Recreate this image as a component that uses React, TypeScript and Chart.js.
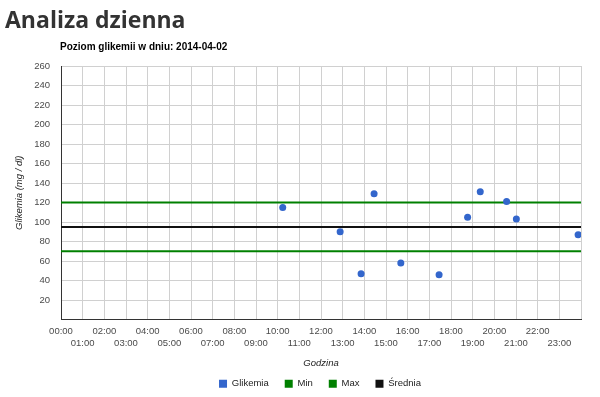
import React, { useEffect, useRef } from 'react';
import { Chart, registerables } from 'chart.js';

Chart.register(...registerables);

const pageTitle = 'Analiza dzienna';
const subTitle = 'Poziom glikemii w dniu: 2014-04-02';
const xAxisTitle = 'Godzina';
const yAxisTitle = 'Glikemia (mg / dl)';

const hourLabels = [
  '00:00', '01:00', '02:00', '03:00', '04:00', '05:00', '06:00', '07:00',
  '08:00', '09:00', '10:00', '11:00', '12:00', '13:00', '14:00', '15:00',
  '16:00', '17:00', '18:00', '19:00', '20:00', '21:00', '22:00', '23:00',
];
const yMin = 0;
const yMax = 260;
const yStep = 20;

const measureTimes = ['10:14', '12:53', '13:51', '14:27', '15:41', '17:27', '18:46', '19:21', '20:34', '21:01', '23:52'];
const glikemia = [115, 90, 47, 129, 58, 46, 105, 131, 121, 103, 87];

const minLimit = 70;
const maxLimit = 120;
const average = 95;

const seriesNames = ['Glikemia', 'Min', 'Max', 'Średnia'];
const seriesColors = ['#3366cc', '#008000', '#008000', '#111111'];

const FONT = "'Liberation Sans', Arial, Helvetica, sans-serif";

const toHours = (t: string) => {
  const [h, m] = t.split(':').map(Number);
  return h + m / 60;
};

const legendShift = {
  id: 'legendShift',
  afterLayout(chart: any) {
    const lg = chart.legend;
    if (!lg) return;
    const h = lg.height;
    lg.left = 40;
    lg.right = 600;
    lg.width = 560;
    lg.top = 363;
    lg.bottom = 363 + h;
  },
};

export default function App() {
  const ref = useRef<HTMLCanvasElement | null>(null);

  useEffect(() => {
    if (!ref.current) return;
    const hLine = (v: number) => [{ x: 0, y: v }, { x: 24, y: v }];
    const chart = new Chart(ref.current, {
      type: 'scatter',
      data: {
        datasets: [
          {
            label: seriesNames[0],
            data: measureTimes.map((t, i) => ({ x: toHours(t), y: glikemia[i] })),
            backgroundColor: seriesColors[0],
            borderColor: seriesColors[0],
            borderWidth: 0,
            pointRadius: 3.5,
            order: 0,
          },
          {
            label: seriesNames[1],
            data: hLine(minLimit),
            showLine: true,
            backgroundColor: seriesColors[1],
            borderColor: seriesColors[1],
            borderWidth: 2,
            pointRadius: 0,
            order: 1,
          },
          {
            label: seriesNames[2],
            data: hLine(maxLimit),
            showLine: true,
            backgroundColor: seriesColors[2],
            borderColor: seriesColors[2],
            borderWidth: 2,
            pointRadius: 0,
            order: 1,
          },
          {
            label: seriesNames[3],
            data: hLine(average),
            showLine: true,
            backgroundColor: seriesColors[3],
            borderColor: seriesColors[3],
            borderWidth: 2,
            pointRadius: 0,
            order: 1,
          },
        ],
      },
      options: {
        animation: false,
        responsive: false,
        devicePixelRatio: 1,
        layout: { padding: { top: 66, left: 0, right: 19, bottom: 0 } },
        plugins: {
          title: { display: false },
          tooltip: { enabled: false },
          legend: {
            position: 'bottom',
            maxHeight: 27.5,
            labels: {
              boxWidth: 8,
              boxHeight: 8,
              padding: 16,
              color: '#222',
              font: { family: FONT, size: 9.5 },
              generateLabels: (c: any) => {
                const items = (Chart.defaults.plugins.legend.labels as any).generateLabels(c);
                return items.map((it: any) => ({
                  ...it,
                  fillStyle: seriesColors[it.datasetIndex],
                  strokeStyle: seriesColors[it.datasetIndex],
                  lineWidth: 0,
                }));
              },
            },
          },
        },
        scales: {
          x: {
            type: 'linear',
            min: 0,
            max: 24,
            afterFit: (s: any) => { s.height = 50; },
            grid: { color: '#d0d0d0', drawTicks: false },
            border: { color: '#333333', width: 1 },
            title: {
              display: true,
              text: xAxisTitle,
              color: '#222',
              font: { family: FONT, size: 9.5, style: 'italic' },
              padding: { top: 0, bottom: 0 },
            },
            afterBuildTicks: (s: any) => {
              s.ticks = Array.from({ length: 25 }, (_, i) => ({ value: i }));
            },
            ticks: {
              autoSkip: false,
              maxRotation: 0,
              minRotation: 0,
              padding: 6.5,
              color: '#4a4a4a',
              font: { family: FONT, size: 9.5 },
              callback: (v: any) => {
                const i = Number(v);
                const lbl = hourLabels[i];
                if (lbl === undefined) return '';
                return i % 2 === 0 ? [lbl, ''] : ['', lbl];
              },
            },
          },
          y: {
            type: 'linear',
            min: yMin,
            max: yMax,
            afterFit: (s: any) => { s.width = 61; },
            grid: { color: '#d0d0d0', drawTicks: false },
            border: { color: '#333333', width: 1 },
            title: {
              display: true,
              text: yAxisTitle,
              color: '#222',
              font: { family: FONT, size: 9.5, style: 'italic' },
              padding: { top: 14, bottom: 0 },
            },
            ticks: {
              stepSize: yStep,
              padding: 11,
              color: '#4a4a4a',
              font: { family: FONT, size: 9.5 },
              callback: (v: any) => (Number(v) === 0 ? '' : String(v)),
            },
          },
        },
      },
      plugins: [legendShift],
    } as any);
    return () => chart.destroy();
  }, []);

  return (
    <div style={{ position: 'absolute', left: 0, top: 0, width: 600, height: 397, background: '#fff' }}>
      <canvas ref={ref} width={600} height={397} style={{ position: 'absolute', left: 0, top: 0, width: 600, height: 397 }} />
      <div
        style={{
          position: 'absolute', left: 5, top: 8, fontFamily: "'Open Sans', sans-serif", fontWeight: 700,
          fontSize: 23, lineHeight: '23px', color: '#333', whiteSpace: 'nowrap',
        }}
      >
        {pageTitle}
      </div>
      <div
        style={{
          position: 'absolute', left: 60, top: 41.5, fontFamily: FONT, fontWeight: 700,
          fontSize: 10, lineHeight: '10px', color: '#000', whiteSpace: 'nowrap',
        }}
      >
        {subTitle}
      </div>
    </div>
  );
}
